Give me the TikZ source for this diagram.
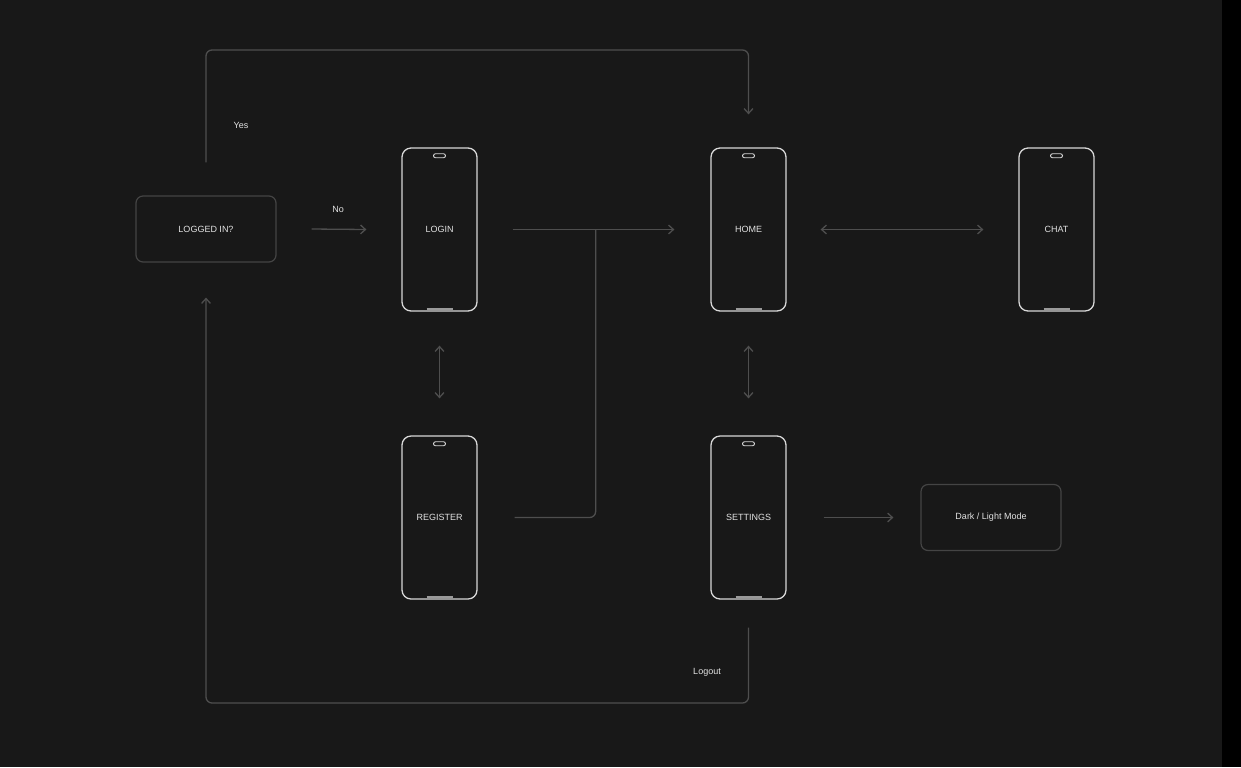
\documentclass[tikz,border=0pt]{standalone}
\usepackage{fontspec}
\setmainfont{Liberation Sans}
\usetikzlibrary{arrows.meta,calc}
\definecolor{bg}{HTML}{181818}
\definecolor{edge}{HTML}{4E4E4E}
\definecolor{boxline}{HTML}{444444}
\definecolor{phoneline}{HTML}{D8D8D8}
\definecolor{txt}{HTML}{E2E2E2}
\definecolor{barc}{HTML}{9A9A9A}
\tikzset{
  phone/.style={draw=phoneline, line width=0.65pt, rounded corners=4.5pt, minimum width=37.5pt, minimum height=81.5pt, inner sep=0pt, text=txt, font=\fontsize{4.5}{5}\selectfont},
  decide/.style={draw=boxline, line width=0.6pt, rounded corners=3.5pt, minimum width=70pt, minimum height=33pt, inner sep=0pt, text=txt, font=\fontsize{4.5}{5}\selectfont},
  spk/.style={draw=phoneline, line width=0.45pt, rounded corners=1pt, minimum width=6pt, minimum height=2pt, inner sep=0pt},
  bar/.style={draw=barc, line width=0.9pt},
  conn/.style={draw=edge, line width=0.65pt, rounded corners=3pt},
  tip/.style={-{Straight Barb[length=2.4pt,width=4.4pt]}},
  tips/.style={{Straight Barb[length=2.4pt,width=4.4pt]}-{Straight Barb[length=2.4pt,width=4.4pt]}},
  lbl/.style={text=txt, font=\fontsize{4.5}{5}\selectfont, inner sep=0pt}
}
\newcommand\phonedeco[1]{%
  \node[spk] (#1spk) at ([yshift=-4.2pt]#1.north) {};
  \draw[bar] ([xshift=-6.5pt,yshift=1.4pt]#1.south) -- ([xshift=6.5pt,yshift=1.4pt]#1.south);}
\begin{document}
\begin{tikzpicture}[x=0.5pt,y=-0.5pt]
\useasboundingbox (0,0) rectangle (1241,767);
\fill[bg] (0,0) rectangle (1222,767);
\fill[black] (1222,0) rectangle (1241,767);

\node[decide] (logged) at (206,229) {LOGGED IN?};
\node[phone] (login) at (439.5,229.5) {LOGIN};
\node[phone] (home) at (748.5,229.5) {HOME};
\node[phone] (chat) at (1056.5,229.5) {CHAT};
\node[phone] (register) at (439.5,517.5) {REGISTER};
\node[phone] (settings) at (748.5,517.5) {SETTINGS};
\node[decide] (mode) at (991,517.5) {Dark / Light Mode};
\phonedeco{login}
\phonedeco{home}
\phonedeco{chat}
\phonedeco{register}
\phonedeco{settings}

\coordinate (topline) at (400,50);
\coordinate (botline) at (400,703);
\coordinate (join) at ([xshift=59pt]login.east);

% Yes
\draw[conn,tip] ([yshift=16.5pt]logged.north) |- (topline) -| ([yshift=16.5pt]home.north);
\node[lbl] (yes) at (241,125) {Yes};
% No
\draw[conn,tip] ([xshift=17.5pt]logged.east) -- ([xshift=-17.5pt]login.west);
\node[lbl] (no) at (338,209) {No};
% Login -> Home
\draw[conn,tip] ([xshift=17.5pt]login.east) -- ([xshift=-18pt]home.west);
% Register -> join
\draw[conn] ([xshift=18.5pt]register.east) -| (join);
% Home <-> Chat
\draw[conn,tips] ([xshift=17pt]home.east) -- ([xshift=-17.5pt]chat.west);
% Login <-> Register
\draw[conn,tips] ([yshift=-17pt]login.south) -- ([yshift=18.5pt]register.north);
% Home <-> Settings
\draw[conn,tips] ([yshift=-17pt]home.south) -- ([yshift=18.5pt]settings.north);
% Settings -> Mode
\draw[conn,tip] ([xshift=18.5pt]settings.east) -- ([xshift=-13.5pt]mode.west);
% Logout
\draw[conn,tip] ([yshift=-14pt]settings.south) |- (botline) -| ([yshift=-17.5pt]logged.south);
\node[lbl] (logout) at (707,672) {Logout};
\end{tikzpicture}
\end{document}
